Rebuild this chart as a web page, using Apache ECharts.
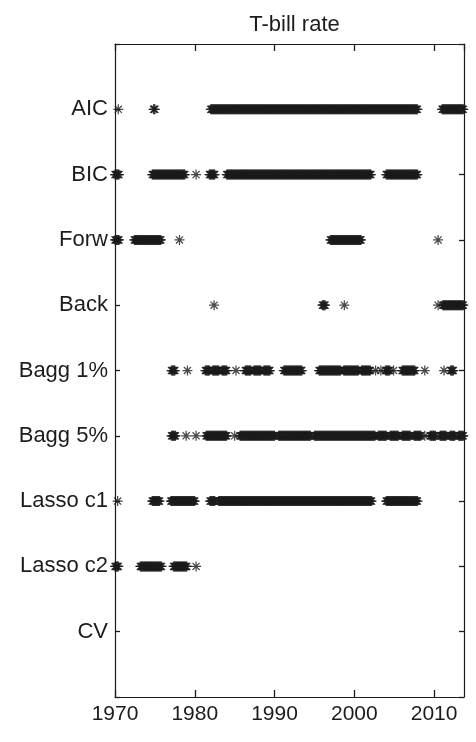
<!DOCTYPE html>
<html>
<head>
<meta charset="utf-8">
<script src="https://cdn.jsdelivr.net/npm/echarts@6/dist/echarts.min.js"></script>
<style>
html,body{margin:0;padding:0;background:#fff;}
#c{width:476px;height:742px;}
</style>
</head>
<body>
<div id="c"></div>
<script>
// Category labels (top to bottom)
const methods = ['AIC','BIC','Forw','Back','Bagg 1%','Bagg 5%','Lasso c1','Lasso c2','CV'];
const xTicks = [1970, 1980, 1990, 2000, 2010];
const title = 'T-bill rate';

// Months selected by each method, as runs [firstMonth, lastMonth] in decimal years
const AIC = [[1970.42,1970.42],[1974.83,1975.0],[1982.0,2007.92],[2011.0,2013.67]];
const BIC = [[1970.0,1970.5],[1974.67,1978.75],[1980.17,1980.17],[1981.83,1982.5],[1984.0,2002.08],[2004.0,2007.92]];
const Forw = [[1970.0,1970.5],[1972.42,1975.75],[1978.08,1978.08],[1997.0,2000.83],[2010.5,2010.5]];
const Back = [[1982.42,1982.42],[1996.0,1996.33],[1998.75,1998.75],[2010.5,2010.5],[2011.08,2013.67]];
const Bagg1 = [[1977.08,1977.5],[1979.08,1979.08],[1981.33,1981.83],[1982.25,1983.0],[1983.42,1984.0],
  [1985.17,1985.17],[1986.33,1987.0],[1987.42,1988.25],[1988.67,1989.42],[1991.17,1993.42],
  [1995.58,1998.25],[1998.67,2000.5],[2000.92,2002.0],[2002.67,2002.67],[2003.33,2003.33],
  [2003.92,2004.42],[2004.92,2004.92],[2006.0,2007.58],[2008.83,2008.83],[2011.25,2011.25],[2012.08,2012.42]];
const Bagg5 = [[1977.08,1977.58],[1978.92,1978.92],[1980.17,1980.17],[1981.42,1984.0],[1985.0,1985.0],
  [1985.67,1990.0],[1990.5,1994.5],[1995.0,2002.58],[2003.0,2004.0],[2004.5,2005.5],[2006.0,2007.0],
  [2007.5,2008.33],[2008.83,2008.83],[2009.5,2010.17],[2010.75,2011.5],[2012.0,2012.58],[2013.08,2013.67]];
const Lasso1 = [[1970.33,1970.33],[1974.67,1975.58],[1977.0,1980.0],[1981.92,1982.5],[1983.0,2002.17],[2004.0,2007.92]];
const Lasso2 = [[1970.0,1970.42],[1973.17,1975.83],[1977.33,1979.0],[1980.17,1980.17]];
const CV = [];

const allRuns = [AIC, BIC, Forw, Back, Bagg1, Bagg5, Lasso1, Lasso2, CV];

function runsToPoints(runs, row) {
  const pts = [];
  runs.forEach(function (r) {
    const m0 = Math.round(r[0] * 12), m1 = Math.round(r[1] * 12);
    for (let m = m0; m <= m1; m++) pts.push([m / 12, row]);
  });
  return pts;
}

const star = 'path://M0,-10L0,10M-10,0L10,0M-7.07,-7.07L7.07,7.07M-7.07,7.07L7.07,-7.07';
const ink = '#1c1c1c';
const font = 'Liberation Sans, Arial, Helvetica, sans-serif';

const series = allRuns.map(function (runs, i) {
  return {
    type: 'scatter',
    name: methods[i],
    data: runsToPoints(runs, i + 1),
    symbol: star,
    symbolSize: 10,
    itemStyle: { color: 'none', borderColor: ink, borderWidth: 1.25 },
    emphasis: { disabled: true },
    silent: true,
    clip: false
  };
});

function tick(len) {
  return { show: true, inside: true, length: len, lineStyle: { color: ink, width: 1.3 } };
}
const common = {
  axisLine: { show: true, onZero: false, lineStyle: { color: ink, width: 1.2 } },
  splitLine: { show: false }
};

const chart = echarts.init(document.getElementById('c'), null, { renderer: 'canvas' });
chart.setOption({
  animation: false,
  backgroundColor: '#fff',
  title: {
    text: title, left: 289.5, textAlign: 'center', top: 9,
    textStyle: { fontFamily: font, fontSize: 22, fontWeight: 'normal', color: ink }
  },
  grid: { left: 115, right: 12, top: 44, bottom: 45 },
  xAxis: [
    Object.assign({
      type: 'value', min: 1970, max: 2013.75, interval: 10, position: 'bottom',
      axisTick: tick(7),
      axisLabel: {
        show: true, inside: false, margin: 7, color: ink, fontFamily: font, fontSize: 21,
        showMaxLabel: false,
        formatter: function (v) { return xTicks.indexOf(v) >= 0 ? String(v) : ''; }
      }
    }, common),
    Object.assign({
      type: 'value', min: 1970, max: 2013.75, interval: 10, position: 'top',
      axisTick: tick(7),
      axisLabel: { show: false }
    }, common)
  ],
  yAxis: [
    Object.assign({
      type: 'value', min: 0, max: 10, interval: 1, inverse: true, position: 'left',
      axisTick: tick(5),
      axisLabel: {
        show: true, inside: false, margin: 7, color: ink, fontFamily: font, fontSize: 22,
        formatter: function (v) { return methods[v - 1] || ''; }
      }
    }, common),
    Object.assign({
      type: 'value', min: 0, max: 10, interval: 1, inverse: true, position: 'right',
      axisTick: tick(5),
      axisLabel: { show: false }
    }, common)
  ],
  series: series
});
</script>
</body>
</html>
